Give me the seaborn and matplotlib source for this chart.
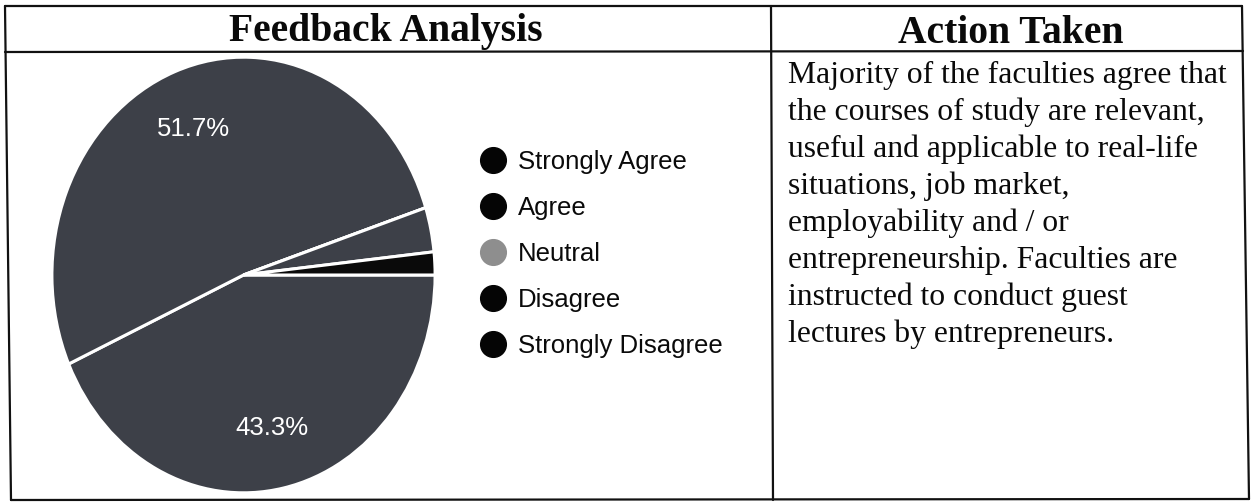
import matplotlib
matplotlib.use('Agg')
import matplotlib.pyplot as plt
from matplotlib.lines import Line2D
import seaborn as sns

# feedback shares (percent), clockwise from 3 o'clock
categories = ['Strongly Agree', 'Agree', 'Neutral', 'Disagree', 'Strongly Disagree']
shares = [43.3, 51.7, 0.0, 3.3, 1.7]
slice_colors = ['#3d4048', '#3d4048', '#8c8c8c', '#3d4048', '#0a0a0a']
legend_colors = ['#050505', '#050505', '#8e8e8e', '#050505', '#050505']

header_left = 'Feedback Analysis'
header_right = 'Action Taken'
action_lines = [
    'Majority of the faculties agree that',
    'the courses of study are relevant,',
    'useful and applicable to real-life',
    'situations, job market,',
    'employability and / or',
    'entrepreneurship. Faculties are',
    'instructed to conduct guest',
    'lectures by entrepreneurs.',
]

sns.set_theme(style='white')
plt.rcParams['font.family'] = ['Liberation Serif', 'DejaVu Serif']
plt.rcParams['text.color'] = '#0a0a0a'

W, H = 1252, 504
fig = plt.figure(figsize=(W / 100, H / 100), dpi=100)
fig.patch.set_facecolor('white')

# full-figure axes in pixel units for the table frame and texts
frame = fig.add_axes([0, 0, 1, 1])
frame.set_xlim(0, W)
frame.set_ylim(H, 0)
frame.axis('off')

lw = 1.6
frame.plot([5, 1242], [6, 6], color='#111111', lw=lw)
frame.plot([5, 1243], [52, 51], color='#111111', lw=lw)
frame.plot([11, 1249], [500, 499], color='#111111', lw=lw)
frame.plot([5, 11], [6, 500], color='#111111', lw=lw)
frame.plot([1242, 1249], [6, 499], color='#111111', lw=lw)
frame.plot([771, 773], [6, 500], color='#111111', lw=lw)

frame.text(386, 41, header_left, ha='center', va='baseline',
           fontsize=28.5, fontweight='bold', color='#0a0a0a')
frame.text(1011, 43, header_right, ha='center', va='baseline',
           fontsize=28.5, fontweight='bold', color='#0a0a0a')

for i, line in enumerate(action_lines):
    frame.text(788, 83 + 37 * i, line, ha='left', va='baseline',
               fontsize=22.8, color='#0a0a0a')

# pie chart
pie_ax = fig.add_axes([50 / W, (H - 495) / H, 387 / W, 440 / H])


def pct_label(p):
    return f'{p:.1f}%' if p > 10 else ''


pie_ax.pie(shares, colors=slice_colors, startangle=0, counterclock=False,
           autopct=pct_label, pctdistance=0.72,
           wedgeprops=dict(edgecolor='white', linewidth=2.2),
           textprops=dict(color='white', fontsize=18.5, family='Liberation Sans'))
pie_ax.set_aspect('auto')
pie_ax.set_xlim(-1.01, 1.01)
pie_ax.set_ylim(-1.01, 1.01)
pie_ax.axis('off')

handles = [Line2D([], [], marker='o', linestyle='none', markersize=18.5,
                  markerfacecolor=c, markeredgecolor=c) for c in legend_colors]
leg = frame.legend(handles, categories, loc='upper left', bbox_to_anchor=(465, 137),
                   bbox_transform=frame.transData, frameon=False,
                   prop=dict(family='Liberation Sans', size=18.5),
                   labelspacing=0.86, handletextpad=0.35, borderpad=0, handlelength=1.2)
for t in leg.get_texts():
    t.set_color('#0a0a0a')

fig.savefig('out.png', dpi=100, facecolor='white')
